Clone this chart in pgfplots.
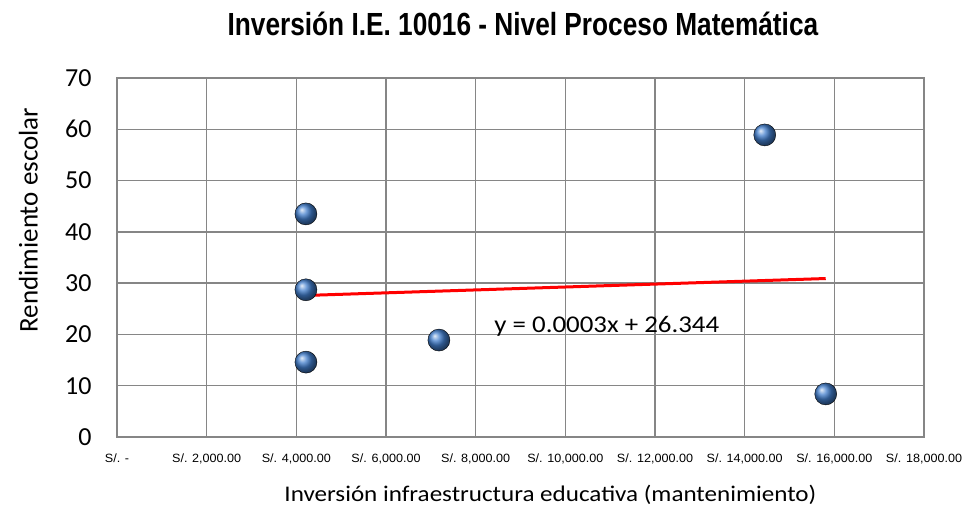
\documentclass[border=0pt]{standalone}
\usepackage{pgfplots}
\pgfplotsset{compat=1.18}
\usepackage{fontspec}
\setmainfont{Carlito}
\newfontfamily\wideFont[FakeStretch=1.12]{Carlito}
\newfontfamily\ticksfont[FakeStretch=1.05]{Liberation Sans}
\newfontfamily\titlefont[FakeStretch=0.82]{Liberation Sans}
\definecolor{gridgray}{RGB}{134,134,134}
\definecolor{ballblue}{RGB}{66,126,204}
\begin{document}
\begin{tikzpicture}
\begin{axis}[
  at={(0,0)}, anchor=south west,
  scale only axis,
  width=807bp, height=359bp,
  xmin=0, xmax=18000, ymin=0, ymax=70,
  scaled x ticks=false,
  xtick={0,2000,4000,6000,8000,10000,12000,14000,16000,18000},
  xticklabels={S/. -,S/. 2{,}000.00,S/. 4{,}000.00,S/. 6{,}000.00,S/. 8{,}000.00,S/. 10{,}000.00,S/. 12{,}000.00,S/. 14{,}000.00,S/. 16{,}000.00,S/. 18{,}000.00},
  ytick={0,10,...,70},
  grid=major,
  major grid style={gridgray, line width=1.5bp},
  axis line style={gridgray, line width=1.5bp},
  tick style={draw=none},
  x tick label style={font=\ticksfont\fontsize{12bp}{13bp}\selectfont, yshift=-13bp},
  y tick label style={font=\fontsize{26bp}{30bp}\selectfont, xshift=-22bp},
  /pgf/number format/assume math mode=true,
  title={\titlefont\bfseries\fontsize{32bp}{36bp}\selectfont Inversión I.E. 10016 - Nivel Proceso Matemática},
  title style={at={(axis description cs:0.503,1.134)}, anchor=center},
  xlabel={\wideFont\fontsize{22.4bp}{27bp}\selectfont Inversión infraestructura educativa (mantenimiento)},
  xlabel style={at={(axis description cs:0.537,-0.162)}, anchor=center},
  ylabel={\fontsize{27bp}{31bp}\selectfont Rendimiento escolar},
  ylabel style={at={(axis description cs:-0.110,0.604)}, anchor=center, rotate=0},
  clip=false,
]
\addplot[red, line width=3bp] coordinates {(4214,27.6) (15808,30.9)};
\addplot[only marks, mark=ball, mark size=11bp, mark options={ball color=ballblue}] coordinates {
  (4214,43.5) (4214,28.7) (4214,14.6) (7180,18.9) (14448,58.9) (15808,8.4)
};
\node[font=\wideFont\fontsize{24bp}{28bp}\selectfont, anchor=center] at (axis cs:10925,21.6) {y = 0.0003x + 26.344};
\end{axis}
\pgfresetboundingbox
\path[use as bounding box] (-117bp,-88bp) rectangle (848bp,437bp);
\end{tikzpicture}
\end{document}
